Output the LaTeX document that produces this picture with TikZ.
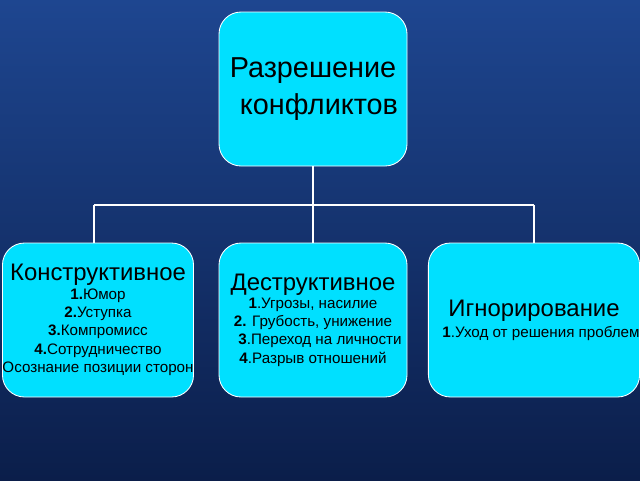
\documentclass[tikz,border=0pt]{standalone}
\usepackage{fontspec}
\setmainfont{Liberation Sans}
\usetikzlibrary{positioning}
\definecolor{boxcyan}{HTML}{00E0FF}
\definecolor{bgtop}{HTML}{1E4690}
\definecolor{bgbot}{HTML}{0B1E4A}
\newcommand{\ttl}[1]{{\fontsize{17}{20}\selectfont #1}}
\tikzset{box_style/.style={draw=white, line width=0.6pt, fill=boxcyan, rounded corners=0.55cm, minimum width=4.7cm, minimum height=3.85cm, align=center, inner sep=0pt, text=black, font=\fontsize{10.8}{13}\selectfont},
    link_style/.style={draw=white, line width=1.4pt}}
\begin{document}
\begin{tikzpicture}
    \useasboundingbox (0,0) rectangle (16,-12);
    \shade[top color=bgtop, bottom color=bgbot] (0,0) rectangle (16,-12);

    \node[box_style, font=\fontsize{20.5}{26}\selectfont] (root) at (7.825,-2.225){Разрешение\\ \hspace{0.3cm}конфликтов};
    \node[box_style] (kon) at (2.45,-8.0){\ttl{Конструктивное}\\
        \textbf{1.}Юмор\\ \textbf{2.}Уступка\\ \textbf{3.}Компромисс\\ \textbf{4.}Сотрудничество\\ Осознание позиции сторон};
    \node[box_style] (des) at (7.825,-8.0){\ttl{Деструктивное}\\
        \textbf{1}.Угрозы, насилие\\ \textbf{2.} Грубость, унижение\\ \hspace{0.35cm}\textbf{3}.Переход на личности\\ \textbf{4}.Разрыв отношений};
    \node[box_style] (ign) at (13.35,-8.0){\ttl{Игнорирование}\\[2pt]
        \hspace{0.35cm}\textbf{1}.Уход от решения проблем};

    \coordinate (mid) at (7.825,-5.125);
    \coordinate (left) at (2.35,-5.125);
    \coordinate (right) at (13.35,-5.125);

    \draw[link_style] (root) -- (mid);
    \draw[link_style] (left) -- (right);
    \draw[link_style] (left) -- (left |- kon.north);
    \draw[link_style] (mid) -- (des);
    \draw[link_style] (right) -- (ign);
\end{tikzpicture}
\end{document}
